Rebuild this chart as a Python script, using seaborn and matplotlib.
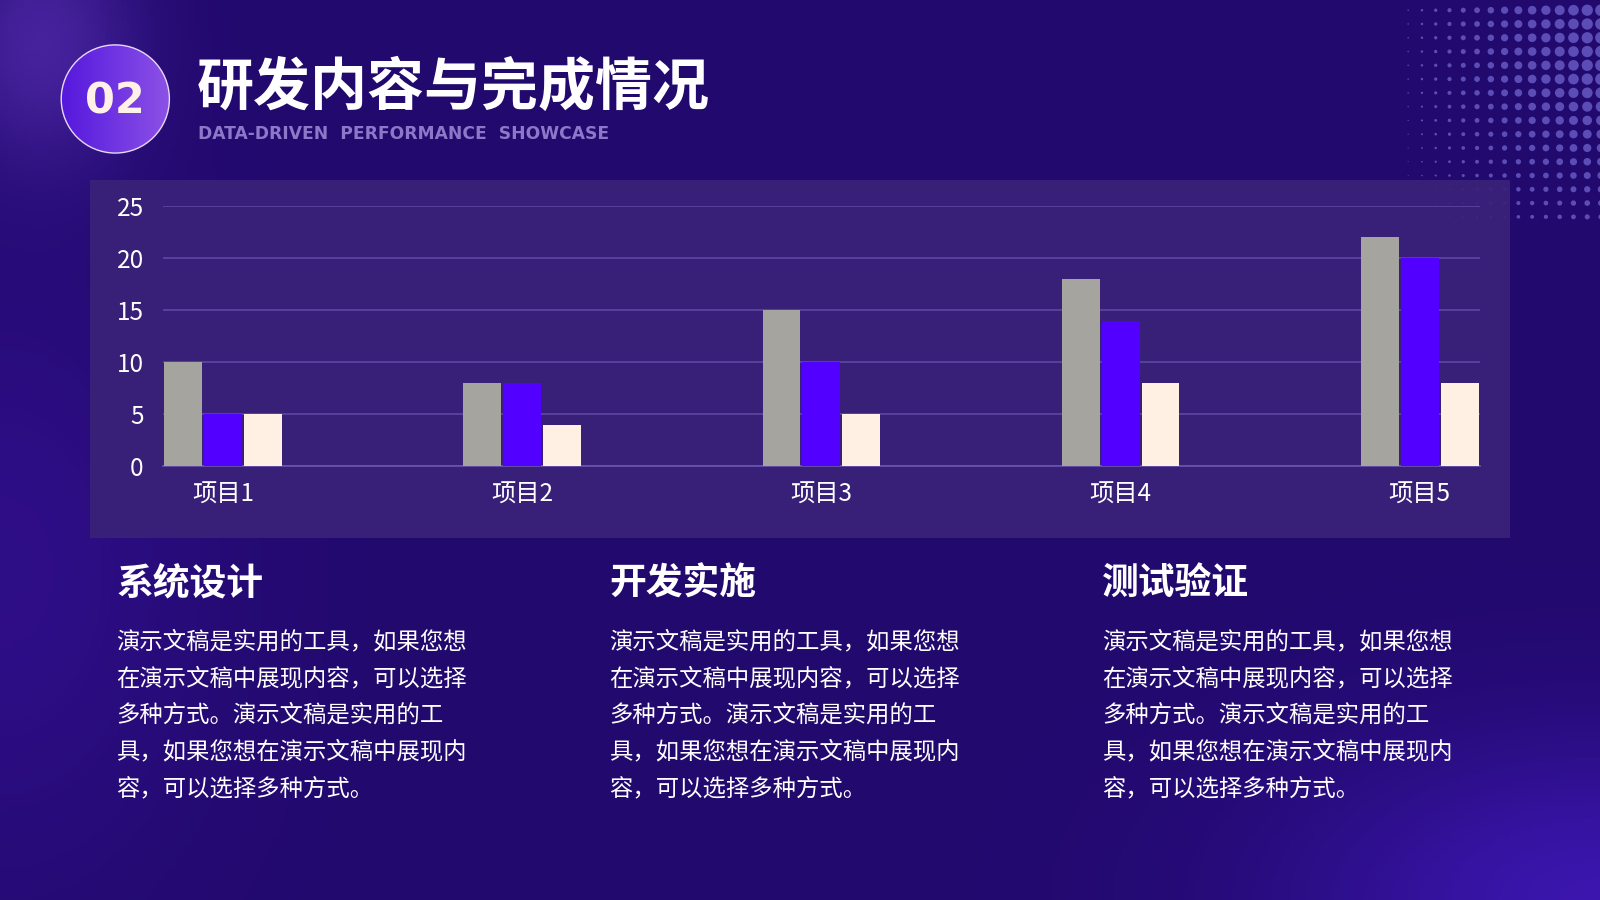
import numpy as np
import pandas as pd
import matplotlib.pyplot as plt
import seaborn as sns
from matplotlib.patches import Circle, Rectangle

# 数据
categories = ['项目1', '项目2', '项目3', '项目4', '项目5']
series_names = ['系列1', '系列2', '系列3']
series1 = [10, 8, 15, 18, 22]
series2 = [5, 8, 10, 14, 20]
series3 = [5, 4, 5, 8, 8]
y_ticks = [0, 5, 10, 15, 20, 25]

title = '研发内容与完成情况'
subtitle = 'DATA-DRIVEN  PERFORMANCE  SHOWCASE'
card_titles = ['系统设计', '开发实施', '测试验证']
card_body = ['演示文稿是实用的工具，如果您想',
             '在演示文稿中展现内容，可以选择',
             '多种方式。演示文稿是实用的工',
             '具，如果您想在演示文稿中展现内',
             '容，可以选择多种方式。']

colors = ['#A5A49F', '#5200FF', '#FFF0E3']

df = pd.DataFrame({
    'cat': categories * 3,
    'series': [s for s in series_names for _ in categories],
    'value': series1 + series2 + series3,
})

sns.set_theme(style='white')
plt.rcParams['font.family'] = ['Noto Sans CJK SC', 'DejaVu Sans']

W, H = 1568, 882
fig = plt.figure(figsize=(16, 9), dpi=100)

# 背景
bg = fig.add_axes([0, 0, 1, 1], zorder=0)
bg.set_xlim(0, W)
bg.set_ylim(H, 0)
bg.axis('off')

yy, xx = np.mgrid[0:H:4, 0:W:4]
base = np.array([0x22, 0x09, 0x6E]) / 255.0
img = np.ones(xx.shape + (3,)) * base
glow1 = np.exp(-(((xx - 40) / 90) ** 2 + ((yy - 40) / 120) ** 2))
glow2 = np.exp(-(((xx - 1568) / 300) ** 2 + ((yy - 882) / 160) ** 2))
glow3 = np.exp(-(((xx - 0) / 200) ** 2 + ((yy - 560) / 300) ** 2))
img += glow1[..., None] * np.array([0.14, 0.10, 0.18])
img += glow2[..., None] * np.array([0.10, 0.05, 0.25])
img += glow3[..., None] * np.array([0.05, 0.02, 0.10])
bg.imshow(np.clip(img, 0, 1), extent=[0, W, H, 0], aspect='auto', zorder=0)

# 右上角点阵
dx, dy = np.meshgrid(np.arange(1380, 1575, 13.5), np.arange(10, 225, 13.5))
fx = np.clip((dx - 1365) / 200, 0, 1) ** 0.8
fy = np.clip(1 - (dy - 80) / 240, 0, 1)
diam = 11.5 * fx * fy
bg.scatter(dx.ravel(), dy.ravel(), s=(diam.ravel() * 1.02 * 0.72) ** 2,
           color='#6354BE', alpha=0.9, linewidths=0, zorder=1)

# 图表面板
bg.add_patch(Rectangle((88, 176), 1392, 351, facecolor='#3A2279',
                       edgecolor='none', alpha=0.93, zorder=2))

# 编号圆（渐变）
circ = Circle((113, 97), 53, facecolor='none', edgecolor='#E8D8F5',
              linewidth=1, zorder=4)
bg.add_patch(circ)
gx = np.linspace(0, 1, 64)[None, :] * np.ones((64, 1))
c_left = np.array([0x55, 0x18, 0xDD]) / 255.0
c_right = np.array([0x8C, 0x52, 0xE6]) / 255.0
grad = c_left + gx[..., None] * (c_right - c_left)
gim = bg.imshow(grad, extent=[60, 166, 150, 44], aspect='auto', zorder=3)
gim.set_clip_path(circ)
bg.set_xlim(0, W)
bg.set_ylim(H, 0)
bg.text(113, 99, '02', color='#FFF0E8', fontsize=31, fontweight='bold',
        ha='center', va='center', family=['DejaVu Sans'], zorder=5)

bg.text(193, 86, title, color='white', fontsize=41, fontweight='black',
        ha='left', va='center', zorder=4)
bg.text(194, 131, subtitle, color='#8C78C8', fontsize=12.3, fontweight='bold',
        ha='left', va='center', family=['DejaVu Sans'], zorder=4)

# 下方文字
for x0, t in zip([114, 597, 1080], card_titles):
    bg.text(x0, 572, t, color='white', fontsize=26.5, fontweight='black',
            ha='left', va='center', zorder=4)
    for i, line in enumerate(card_body):
        bg.text(x0, 629 + i * 36, line, color='white', fontsize=16.8,
                ha='left', va='center', zorder=4)

# 柱状图
ax = fig.add_axes([160 / W, 1 - 457 / H, 1290 / W, (457 - 202) / H], zorder=5)
ax.set_facecolor('none')
sns.barplot(data=df, x='cat', y='value', hue='series', palette=colors,
            width=0.4, gap=0.05, saturation=1, linewidth=0, ax=ax,
            legend=False, zorder=3)
ax.set_xlim(-0.2, 4.2)
ax.set_ylim(0, 25)
ax.set_yticks(y_ticks)
ax.yaxis.grid(True, color='#5C48A3', linewidth=1.2)
ax.set_axisbelow(True)
for s in ['top', 'right', 'left']:
    ax.spines[s].set_visible(False)
ax.spines['bottom'].set_color('#6A56AE')
ax.spines['bottom'].set_linewidth(1.2)
ax.tick_params(axis='both', length=0, colors='white', labelsize=17.5)
ax.tick_params(axis='y', pad=14)
ax.tick_params(axis='x', pad=11)
ax.set_xlabel('')
ax.set_ylabel('')

fig.savefig('out.png', dpi=100)
